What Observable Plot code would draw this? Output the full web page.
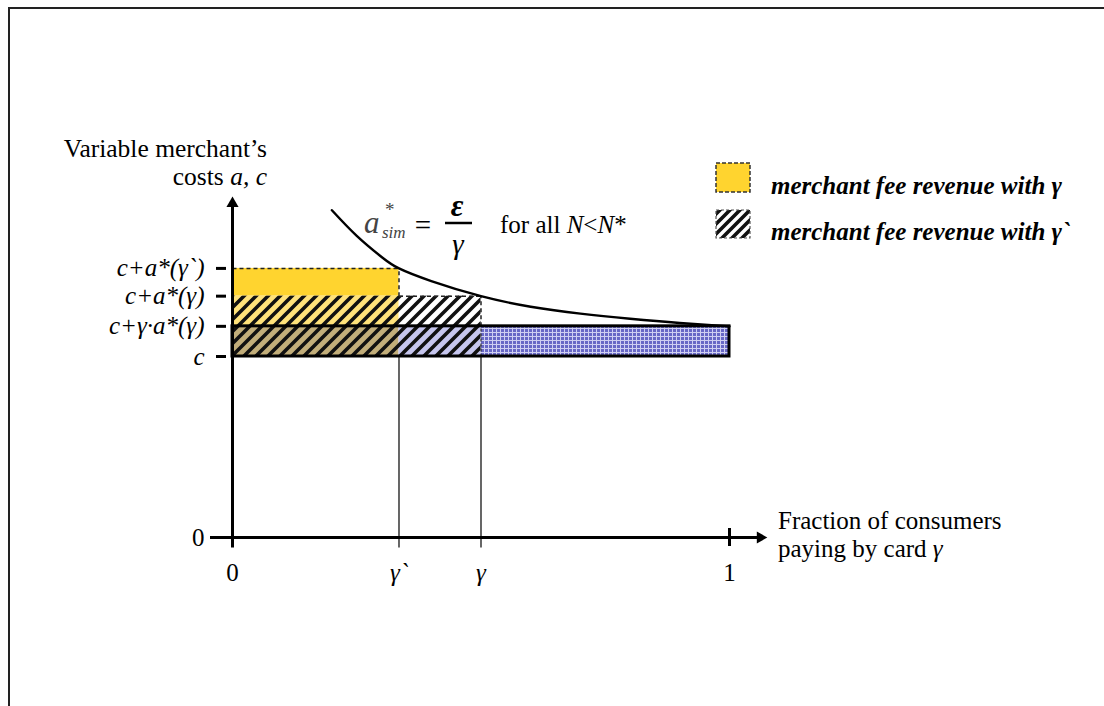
<!DOCTYPE html>
<html><head><meta charset="utf-8">
<script src="https://cdn.jsdelivr.net/npm/d3@7"></script>
<script src="https://cdn.jsdelivr.net/npm/@observablehq/plot@0.6"></script>
<style>
html,body{margin:0;padding:0;background:#fff;}
#wrap{position:relative;width:1104px;height:706px;overflow:hidden;}
#frame{position:absolute;left:8px;top:7px;width:1200px;height:800px;border-top:2px solid #222;border-left:2px solid #222;}
#chart{position:absolute;left:0;top:0;}
</style></head><body>
<div id="wrap"><div id="frame"></div><div id="chart"></div></div>
<script>
// ---- data ----
const xTickValues = [0, 0.335, 0.5, 1];
const xTickLabels = ["0", "γ`", "γ", "1"];
const yTickValues = [0, 6, 7, 8, 8.92];
const yTickLabels = ["0", "c", "c+γ·a*(γ)", "c+a*(γ)", "c+a*(γ`)"];
const curveGamma = [0.2, 0.25, 0.3, 0.335, 0.4, 0.5, 0.6, 0.7, 0.8, 0.9, 1];
const curveCost  = [10.85, 10.0, 9.3, 8.92, 8.5, 8.0, 7.65, 7.42, 7.25, 7.11, 7.0];
const axisEnds = [1.062, 11.07, -0.33]; // x-axis end, y-axis end, below zero

const [, GP, G, ONE] = xTickValues;
const [, C, CGA, CA, CAP] = yTickValues;
const [XEND, YEND, BELOW] = axisEnds;
const curve = curveGamma.map((g, i) => ({g, v: curveCost[i]}));
const yLabel = new Map(yTickValues.map((v, i) => [v, yTickLabels[i]]));
const xLabel = new Map(xTickValues.map((v, i) => [v, xTickLabels[i]]));

const box = (x1, x2, y1, y2) => [{x1, x2, y1, y2}];
const R = (d, o) => Plot.rect(d, {x1: "x1", x2: "x2", y1: "y1", y2: "y2", ...o});
const seg = (x1, x2, y1, y2, o) => Plot.link([{x1, x2, y1, y2}], {x1: "x1", x2: "x2", y1: "y1", y2: "y2", ...o});

const FS = 25;
const svg = Plot.plot({
  width: 1104, height: 706,
  marginLeft: 232, marginRight: 375, marginTop: 175, marginBottom: 169,
  x: {domain: [0, 1], axis: null},
  y: {domain: [0, 12], axis: null},
  style: {fontFamily: "'Liberation Serif', 'Times New Roman', serif", fontSize: FS + "px", color: "#000", background: "transparent", overflow: "visible"},
  marks: [
    R(box(0, GP, CA, CAP), {fill: "#FFD42F"}),
    R(box(0, GP, CGA, CA), {fill: "#FFE27A"}),
    R(box(0, GP, C, CGA), {fill: "#C2AE7A"}),
    R(box(GP, G, C, CGA), {fill: "#C6C6EE"}),
    R(box(G, ONE, C, CGA), {fill: "url(#gridPat)"}),
    R(box(0, G, C, CA), {fill: "url(#hatchPat)"}),
    // dashed outlines
    seg(0, GP, CAP, CAP, {stroke: "#222", strokeWidth: 1.5, strokeDasharray: "4,3"}),
    seg(GP, GP, CA, CAP, {stroke: "#222", strokeWidth: 1.5, strokeDasharray: "4,3"}),
    seg(GP, G, CA, CA, {stroke: "#222", strokeWidth: 1.5, strokeDasharray: "4,3"}),
    seg(G, G, CGA, CA, {stroke: "#222", strokeWidth: 1.5, strokeDasharray: "4,3"}),
    seg(G, G, C, CGA, {stroke: "#333", strokeWidth: 1.2, strokeDasharray: "3,2"}),
    // thin vertical guides
    seg(GP, GP, BELOW, C, {stroke: "#000", strokeWidth: 1.2}),
    seg(G, G, BELOW, C, {stroke: "#000", strokeWidth: 1.2}),
    // thick rectangle outline
    R(box(0, ONE, C, CGA), {fill: "none", stroke: "#000", strokeWidth: 3}),
    // curve a* = eps / gamma
    Plot.line(curve, {x: "g", y: "v", curve: "natural", stroke: "#000", strokeWidth: 2.4}),
    // axes lines
    seg(0, 0, BELOW, YEND, {stroke: "#000", strokeWidth: 3}),
    seg(0, XEND, 0, 0, {stroke: "#000", strokeWidth: 3}),
    Plot.dot([{x: 0, y: YEND}], {x: "x", y: "y", symbol: "triangle", r: 4.5, fill: "#000", stroke: "none"}),
    Plot.dot([{x: XEND, y: 0}], {x: "x", y: "y", symbol: "triangle", rotate: 90, r: 4.5, fill: "#000", stroke: "none"}),
    // y ticks
    Plot.axisY(yTickValues.slice(1), {tickSize: 10, dx: -6, tickPadding: 12, strokeWidth: 3, fontSize: FS, fontStyle: "italic", tickFormat: d => yLabel.get(d)}),
    Plot.axisY([0], {tickSize: 22, tickPadding: 6, strokeWidth: 3, fontSize: FS, tickFormat: d => yLabel.get(d)}),
    // x ticks
    Plot.axisX([0, ONE], {tickSize: 18, dy: -9, strokeWidth: 3, tickFormat: () => ""}),
    Plot.axisX([0, ONE], {tickSize: 0, tickPadding: 26, fontSize: FS, tickFormat: d => xLabel.get(d)}),
    Plot.axisX([GP, G], {tickSize: 0, tickPadding: 26, fontSize: FS, fontStyle: "italic", tickFormat: d => xLabel.get(d)})
  ]
});
document.getElementById("chart").appendChild(svg);

// ---- patterns ----
const s = d3.select(svg);
const defs = s.insert("defs", ":first-child");
const hp = defs.append("pattern").attr("id", "hatchPat").attr("patternUnits", "userSpaceOnUse").attr("width", 12).attr("height", 12);
hp.append("path").attr("d", "M-3,3L3,-3M0,12L12,0M9,15L15,9").attr("stroke", "#111").attr("stroke-width", 3.6);
const hl = defs.append("pattern").attr("id", "hatchLeg").attr("patternUnits", "userSpaceOnUse").attr("width", 10).attr("height", 10);
hl.append("rect").attr("width", 10).attr("height", 10).attr("fill", "#fff");
hl.append("path").attr("d", "M-3,3L3,-3M0,10L10,0M7,13L13,7").attr("stroke", "#111").attr("stroke-width", 3.6);
const gp = defs.append("pattern").attr("id", "gridPat").attr("patternUnits", "userSpaceOnUse").attr("width", 4).attr("height", 4);
gp.append("rect").attr("width", 4).attr("height", 4).attr("fill", "#6868C6");
gp.append("path").attr("d", "M0,0.5H4M0.5,0V4").attr("stroke", "#CFCFF2").attr("stroke-width", 1);

// ---- annotations ----
const ff = "'Liberation Serif', 'Times New Roman', serif";
const ann = s.append("g").attr("font-family", ff).attr("fill", "#000").attr("text-anchor", "start");
function txt(x, y, parts, opts = {}) {
  const t = ann.append("text").attr("x", x).attr("y", y).attr("font-size", opts.size || FS)
    .attr("text-anchor", opts.anchor || "start");
  if (opts.weight) t.attr("font-weight", opts.weight);
  if (opts.style) t.attr("font-style", opts.style);
  if (opts.fill) t.attr("fill", opts.fill);
  for (const p of parts) {
    const sp = t.append("tspan").text(p[0]);
    if (p[1]) sp.attr("font-style", "italic");
  }
  return t;
}
// y-axis title
txt(267, 157, [["Variable merchant’s"]], {anchor: "end", size: 25.5});
txt(267, 185, [["costs "], ["a, c", true]], {anchor: "end", size: 25.5});
// x-axis title
txt(778, 529, [["Fraction of consumers"]]);
txt(778, 557, [["paying by card "], ["γ", true]]);
// formula
txt(364, 233, [["a", true]], {size: 31, fill: "#444"});
txt(385, 216, [["*"]], {size: 19, fill: "#444"});
txt(382, 238, [["sim", true]], {size: 17, fill: "#444"});
txt(423, 235, [["="]], {size: 29, anchor: "middle"});
txt(457, 216, [["ε", true]], {size: 31, anchor: "middle", weight: "bold"});
ann.append("line").attr("x1", 445).attr("x2", 472).attr("y1", 223).attr("y2", 223).attr("stroke", "#000").attr("stroke-width", 2.5);
txt(458, 254, [["γ", true]], {size: 29, anchor: "middle"});
txt(500, 233, [["for all "], ["N", true], ["<"], ["N", true], ["*"]]);
// legend
ann.append("rect").attr("x", 716).attr("y", 163).attr("width", 34).attr("height", 29).attr("fill", "#FFD42F").attr("stroke", "#333").attr("stroke-width", 1.5).attr("stroke-dasharray", "4,2");
ann.append("rect").attr("x", 716).attr("y", 210).attr("width", 34).attr("height", 28).attr("fill", "url(#hatchLeg)").attr("stroke", "#555").attr("stroke-width", 1.2).attr("stroke-dasharray", "3,2");
txt(771, 194, [["merchant fee revenue with γ"]], {style: "italic", weight: "bold"});
txt(771, 240, [["merchant fee revenue with γ`"]], {style: "italic", weight: "bold"});
</script></body></html>
